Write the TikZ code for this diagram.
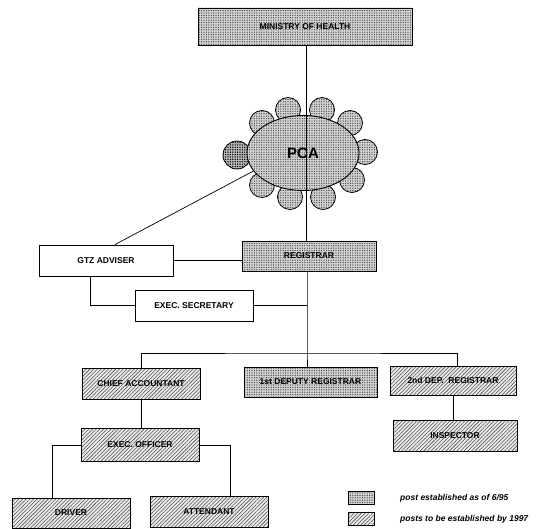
\documentclass[tikz,border=0pt]{standalone}
\usepackage{fontspec}
\setmainfont{Liberation Sans}
\usetikzlibrary{patterns,patterns.meta,shapes.geometric}
\begin{document}
\begin{tikzpicture}[x=1pt,y=-1pt,
  every node/.style={font=\fontsize{8.5}{9}\selectfont\bfseries, inner sep=0pt},
  estab/.style={draw=black, line width=0.9pt, preaction={fill=gray!35}, pattern={Dots[distance=2.4pt, radius=0.65pt]}, pattern color=black!75},
  planned/.style={draw=black, line width=0.9pt, preaction={fill=gray!15}, pattern={Lines[angle=45, distance=2.6pt, line width=0.55pt]}, pattern color=black!70},
  plain/.style={draw=black, line width=0.9pt, fill=white},
  post/.style={rectangle, minimum width=#1, minimum height=31pt},
  link/.style={draw=black, line width=0.7pt},
  seat/.style={estab, line width=0.8pt},
  legendtext/.style={font=\fontsize{8.5}{9}\selectfont\bfseries\itshape, anchor=west}
]
\useasboundingbox[fill=white] (0,0) rectangle (540,529);

% nodes
\node[estab, post=214pt, minimum height=37pt] (moh) at (305,26.5) {MINISTRY OF HEALTH};

% seats around the PCA
\foreach \cx/\cy in {288/110, 322/110, 262/123, 350/123, 365/152, 352/180, 290/197, 323/197, 262/185}
  \draw[seat] (\cx,\cy) circle (12.5pt);
\draw[draw=black, line width=0.8pt, preaction={fill=gray!55}, pattern={Dots[distance=2.4pt, radius=0.75pt]}, pattern color=black] (237,155) circle (14pt);
\node[estab, ellipse, minimum width=112pt, minimum height=75pt, font=\fontsize{15}{16}\selectfont\bfseries] (pca) at (303,153) {PCA};

\node[plain, post=134pt] (gtz) at (106,260.5) {GTZ ADVISER};
\node[estab, post=134pt, minimum height=30pt] (reg) at (309,256) {REGISTRAR};
\node[plain, post=118pt] (exec) at (194,305.5) {EXEC. SECRETARY};

\node[planned, post=118pt] (chief) at (141,383.5) {CHIEF ACCOUNTANT};
\node[estab, post=133pt, minimum height=30pt] (dep1) at (310.5,382) {1st DEPUTY REGISTRAR};
\node[planned, post=126pt, minimum height=29pt] (dep2) at (453,380.5) {2nd DEP.~~REGISTRAR};
\node[planned, post=124pt] (insp) at (455,435.5) {INSPECTOR};
\node[planned, post=118pt, minimum height=33pt] (eo) at (140,445) {EXEC. OFFICER};
\node[planned, post=118pt, minimum height=30pt] (driver) at (71,513) {DRIVER};
\node[planned, post=118pt] (att) at (209,511.5) {ATTENDANT};

\coordinate (bus) at (307,353);

% connectors
\draw[link] ([xshift=1pt]moh.south) -- ([xshift=1pt]moh.south |- reg.north);
\draw[link] (pca.200) -- ([xshift=9pt]gtz.north);
\draw[link] (gtz.east) -- (gtz.east -| reg.west);
\draw[link] ([xshift=-16pt]gtz.south) |- (exec.west);
\draw[link] (exec.east) -- (exec.east -| bus);
\draw[link] (reg.south -| bus) -- (bus) -- (bus |- dep1.north);
\draw[link] (chief.north) |- (bus) -| ([xshift=4pt]dep2.north);
\draw[link] (chief.south) -- (chief.south |- eo.north);
\draw[link] (eo.west) -| ([xshift=-19pt]driver.north);
\draw[link] (eo.east) -| ([xshift=21pt]att.north);
\draw[link] (dep2.south) -- (dep2.south |- insp.north);

% legend
\node[estab, line width=0.6pt, minimum width=26pt, minimum height=13pt] (lg1) at (361,497.5) {};
\node[planned, line width=0.6pt, minimum width=26pt, minimum height=13pt] (lg2) at (361,518.5) {};
\node[legendtext] (lt1) at (400,498) {post established as of 6/95};
\node[legendtext] (lt2) at (400,519) {posts to be established by 1997};
\end{tikzpicture}
\end{document}
